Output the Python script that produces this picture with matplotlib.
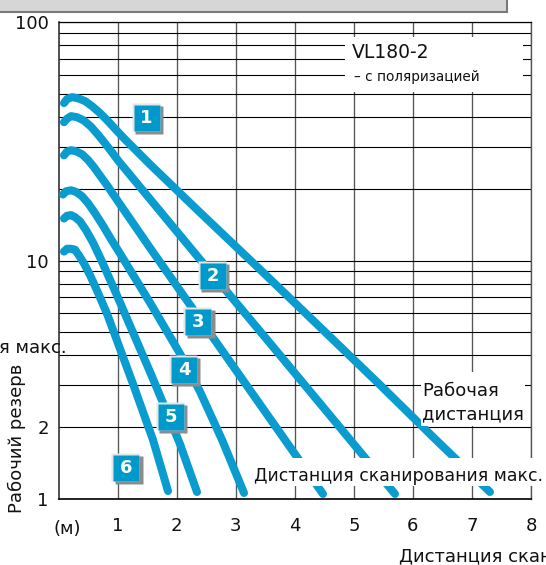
import matplotlib
matplotlib.use("Agg")
import matplotlib.pyplot as plt
import matplotlib.transforms as mtransforms
from matplotlib.patches import Rectangle
from matplotlib.ticker import NullFormatter

# ---------------- data ----------------
curve1_x = [0.093, 0.144, 0.229, 0.330, 0.449, 0.567, 0.703, 0.838, 0.974, 1.126,
            1.549, 2.396, 3.412, 4.597, 5.443, 6.341, 7.305]
curve1_y = [45.7, 47.5, 48.4, 47.9, 46.6, 44.4, 41.5, 38.4, 35.3, 32.2,
            25.3, 15.9, 9.17, 4.79, 3.01, 1.82, 1.07]

curve2_x = [0.093, 0.144, 0.212, 0.313, 0.432, 0.550, 0.669, 0.787, 0.906, 1.007,
            1.549, 2.396, 3.530, 4.597, 5.697]
curve2_y = [38.0, 39.3, 40.3, 39.9, 38.6, 36.4, 33.7, 31.0, 28.4, 26.3,
            18.1, 10.1, 4.66, 2.24, 1.05]

curve3_x = [0.093, 0.144, 0.212, 0.296, 0.398, 0.500, 0.601, 0.720, 0.838, 1.007,
            1.549, 2.396, 3.242, 4.038, 4.478]
curve3_y = [27.6, 28.6, 29.0, 28.7, 27.9, 26.4, 24.6, 22.4, 20.4, 17.7,
            11.3, 5.68, 2.86, 1.50, 1.05]

curve4_x = [0.076, 0.127, 0.212, 0.296, 0.398, 0.500, 0.618, 0.753, 0.906, 1.041,
            1.549, 2.057, 2.396, 2.769, 3.141]
curve4_y = [18.9, 19.5, 19.7, 19.4, 18.6, 17.4, 15.8, 14.0, 12.1, 10.7,
            6.66, 4.07, 2.82, 1.77, 1.06]

curve5_x = [0.093, 0.144, 0.212, 0.279, 0.364, 0.466, 0.584, 0.720, 0.991,
            1.600, 2.057, 2.345]
curve5_y = [15.0, 15.4, 15.5, 15.2, 14.6, 13.4, 11.9, 10.1, 7.13,
            3.19, 1.70, 1.07]

curve6_x = [0.093, 0.144, 0.212, 0.279, 0.347, 0.432, 0.533, 0.652, 0.821,
            1.261, 1.600, 1.854]
curve6_y = [10.9, 11.2, 11.2, 11.1, 10.5, 9.71, 8.69, 7.48, 5.99,
            3.04, 1.77, 1.08]

curve_labels = ["1", "2", "3", "4", "5", "6"]
x_ticks = [1, 2, 3, 4, 5, 6, 7, 8]
x_tick_labels = ["1", "2", "3", "4", "5", "6", "7", "8"]
y_major = [1, 2, 10, 100]
y_major_labels = ["1", "2", "10", "100"]
y_minor = [3, 4, 5, 6, 7, 8, 9, 20, 30, 40, 50, 60, 70, 80, 90]

# label badge anchor points (data coords)
badge_x = [1.49, 2.61, 2.37, 2.125, 1.905, 1.15]
badge_y = [39.7, 8.65, 5.54, 3.48, 2.21, 1.35]

# ---------------- figure ----------------
W, H = 546, 565
BLUE = "#0a9ccf"
fig = plt.figure(figsize=(W / 100, H / 100), dpi=100)
fig.patch.set_facecolor("white")


def fx(x):
    return x / W


def fy(y):
    return 1 - y / H


ax = fig.add_axes([fx(58.5), fy(499), (531 - 58.5) / W, (499 - 22) / H])
ax.set_xlim(0, 8)
ax.set_yscale("log")
ax.set_ylim(1, 100)

ax.set_yticks(y_major)
ax.set_yticklabels(y_major_labels)
ax.set_yticks(y_minor, minor=True)
ax.yaxis.set_minor_formatter(NullFormatter())
ax.set_xticks(x_ticks)
ax.set_xticklabels(x_tick_labels)

ax.tick_params(axis="both", which="both", length=0, labelsize=13, colors="#111")
ax.tick_params(axis="y", pad=7)
ax.tick_params(axis="x", pad=13)

ax.grid(axis="y", which="both", color="black", lw=0.8, zorder=1)
ax.grid(axis="x", which="major", color="#555555", lw=0.95, zorder=1)
ax.set_axisbelow(True)

for side, col, lw in [("left", "#333333", 1.2), ("bottom", "black", 1.2),
                      ("top", "black", 0.9), ("right", "#555555", 1.0)]:
    ax.spines[side].set_color(col)
    ax.spines[side].set_linewidth(lw)

curves = [(curve1_x, curve1_y), (curve2_x, curve2_y), (curve3_x, curve3_y),
          (curve4_x, curve4_y), (curve5_x, curve5_y), (curve6_x, curve6_y)]
for cx, cy in curves:
    ax.plot(cx, cy, color=BLUE, lw=5.8, solid_capstyle="round",
            solid_joinstyle="round", zorder=3, clip_on=False)

# badges
shadow_tr = mtransforms.offset_copy(ax.transData, fig=fig, x=2.2, y=-2.2, units="dots")
light_tr = mtransforms.offset_copy(ax.transData, fig=fig, x=-1.0, y=1.0, units="dots")
for lab, bx, by in zip(curve_labels, badge_x, badge_y):
    ax.plot([bx], [by], marker="s", ms=19.6, mfc="#8c8c8c", mec="none",
            transform=shadow_tr, zorder=5)
    ax.plot([bx], [by], marker="s", ms=19.6, mfc="#e6e6e6", mec="none",
            transform=light_tr, zorder=5)
    ax.plot([bx], [by], marker="s", ms=19.0, mfc="#0099cc", mec="none", zorder=6)
    ax.text(bx, by, lab, color="white", fontsize=13, fontweight="bold",
            ha="center", va="center", zorder=7)


# white boxes (figure pixels)
def box(x0, y0, x1, y1):
    fig.add_artist(Rectangle((fx(x0), fy(y1)), (x1 - x0) / W, (y1 - y0) / H,
                             transform=fig.transFigure, fc="white", ec="none",
                             zorder=10))


box(345, 37, 523, 92)
box(421, 372, 525, 426)
box(252, 458, 560, 486)


def ftext(x, y, s, **kw):
    fig.text(fx(x), fy(y), s, zorder=11, color="#111", **kw)


ftext(352, 58.5, "VL180-2", fontsize=13.5, va="baseline", ha="left")
ftext(354, 81.5, "– с поляризацией", fontsize=9.8, va="baseline", ha="left")
ftext(422, 396.5, "Рабочая", fontsize=13, va="baseline", ha="left")
ftext(422, 419.5, "дистанция", fontsize=13, va="baseline", ha="left")
ftext(254, 481, "Дистанция сканирования макс.", fontsize=12.4, va="baseline", ha="left")
ftext(-1, 353, "я макс.", fontsize=13, va="baseline", ha="left")
ftext(17, 438, "Рабочий резерв", fontsize=13, rotation=90, va="center", ha="center")
ftext(67, 528.5, "(м)", fontsize=13, va="center", ha="center")
ftext(399, 562.5, "Дистанция сканирования", fontsize=13, va="baseline", ha="left")

# top gray panel edge
fig.add_artist(Rectangle((fx(-3), fy(12)), 510 / W, 20 / H,
                         transform=fig.transFigure, fc="#d6d6d6", ec="#7a7a7a",
                         lw=1.5, zorder=10))

fig.savefig("out.png", dpi=100)
